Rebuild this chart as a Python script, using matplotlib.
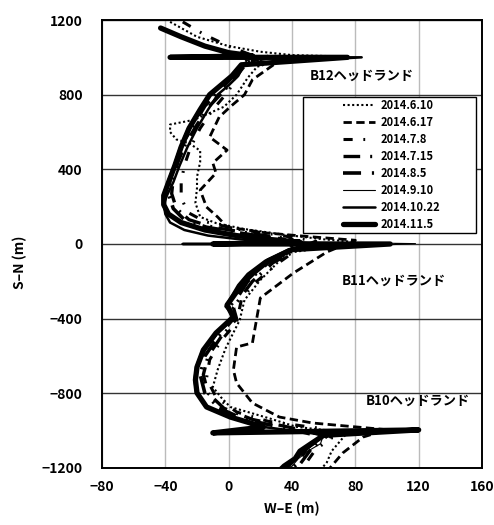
import matplotlib
matplotlib.use("Agg")
import matplotlib.pyplot as plt
from matplotlib.patches import Rectangle

plt.rcParams['font.family'] = ['Noto Sans CJK JP', 'DejaVu Sans']
plt.rcParams['font.weight'] = 'bold'

# shoreline traces (W-E m, S-N m)
x_0610 = [-37, -20, 0, 20, 40, 70, 40, 18, 12, 5, -3, -22, -37, -37, -33, -25, -18, -18, -20, -20, -21, -18, -8, 10, 35, 60, 80,
          60, 37, 20, 10, 7, -2, -7, -10, -5, 1, 12, 26, 43, 75, 70, 65, 62, 58]
y_0610 = [1190, 1110, 1060, 1030, 1012, 1005, 1000, 950, 890, 800, 735, 665, 640, 600, 560, 540, 500, 440, 360, 300, 220, 145, 112, 80, 50, 25, 10,
          -20, -48, -193, -300, -407, -560, -675, -766, -820, -873, -900, -935, -980, -1010, -1060, -1110, -1170, -1210]

x_0617 = [60, 30, 25, 15, 10, 1, -6, -12, -1, -10, -8, -18, -14, -7, -1, 24, 53, 80,
          62, 41, 20, 15, 5, 3, 5, 15, 32, 53, 100, 85, 72, 66, 63]
y_0617 = [1005, 970, 940, 880, 800, 735, 680, 573, 503, 434, 380, 289, 198, 145, 91, 59, 38, 20,
          -43, -155, -289, -530, -552, -675, -745, -852, -927, -959, -995, -1034, -1120, -1180, -1210]

x_0708 = [-29, -15, 0, 15, 10, 5, 0, -10, -18, -24, -28, -30, -30, -26, -15, 5, 30, 55,
          45, 30, 15, 8, 5, -5, -12, -14, -8, 5, 25, 60, 65, 55, 50, 47]
y_0708 = [1190, 1120, 1060, 1010, 980, 900, 820, 720, 620, 520, 420, 330, 250, 170, 120, 80, 50, 15,
          -20, -110, -220, -300, -420, -520, -620, -720, -820, -900, -950, -990, -1040, -1100, -1160, -1210]

x_0715 = [30, 12, 5, -3, -12, -20, -27, -32, -35, -36, -33, -25, -10, 15, 40,
          45, 28, 15, 8, 3, 5, -5, -13, -16, -13, -3, 15, 40, 62, 52, 45, 42]
y_0715 = [1005, 975, 900, 820, 740, 640, 540, 440, 350, 270, 190, 130, 90, 55, 25,
          -25, -100, -200, -280, -340, -400, -500, -600, -700, -800, -880, -940, -985, -1030, -1100, -1180, -1210]

x_0805 = [25, 10, 3, -6, -15, -22, -29, -33, -37, -38, -35, -28, -14, 10, 35,
          42, 25, 12, 6, 0, 3, -7, -15, -18, -15, -6, 10, 35, 58, 49, 43, 39]
y_0805 = [1005, 970, 900, 820, 740, 640, 540, 440, 350, 270, 190, 130, 90, 55, 25,
          -25, -100, -200, -280, -340, -400, -500, -600, -700, -800, -880, -940, -985, -1030, -1100, -1180, -1210]

x_0910 = [84, 15, 8, 2, -5, -12, -19, -26, -31, -35, -39, -42, -42, -39, -31, -17, 3, 25, 50, 118,
          42, 24, 12, 6, -1, 3, -8, -17, -21, -22, -21, -15, 0, 20, 60, 58, 50, 44, 40, 33]
y_0910 = [1000, 1000, 960, 900, 850, 800, 720, 620, 520, 420, 330, 260, 210, 160, 115, 75, 45, 25, 10, 2,
          -25, -90, -160, -230, -330, -390, -477, -568, -659, -728, -798, -873, -927, -980, -1020, -1070, -1110, -1150, -1190, -1215]

x_1022 = [-20, 84, 10, 6, 0, -7, -13, -20, -26, -31, -35, -39, -41, -40, -37, -28, -13, 7, 27, 45, -29, 90,
          38, 23, 12, 6, -2, 4, -7, -15, -20, -21, -20, -14, 1, 22, 60, 54, 47, 43, 38, 34]
y_1022 = [1000, 1000, 965, 900, 850, 800, 720, 620, 520, 420, 330, 260, 210, 160, 115, 75, 45, 25, 10, 0, 0, 0,
          -28, -90, -160, -220, -335, -390, -477, -568, -659, -728, -798, -873, -927, -980, -1022, -1070, -1110, -1150, -1190, -1215]

x_1105 = [-43, -30, -15, 0, 15, -37, 75, 8, 2, -5, -12, -18, -25, -30, -34, -38, -41, -41, -38, -30, -15, 5, 25, 45, -10, 102,
          40, 25, 15, 9, -1, 3, -8, -16, -20, -21, -20, -14, 1, 22, -10, 120, 60, 52, 45, 42, 35, 32]
y_1105 = [1157, 1110, 1060, 1025, 1008, 1000, 1000, 960, 900, 850, 800, 720, 620, 520, 420, 330, 260, 210, 160, 115, 75, 45, 25, 10, 0, 0,
          -30, -90, -160, -209, -327, -391, -477, -568, -659, -728, -798, -873, -927, -980, -1012, -996, -1025, -1070, -1110, -1150, -1190, -1215]

labels = ['2014.6.10', '2014.6.17', '2014.7.8', '2014.7.15', '2014.8.5', '2014.9.10', '2014.10.22', '2014.11.5']
xs = [x_0610, x_0617, x_0708, x_0715, x_0805, x_0910, x_1022, x_1105]
ys = [y_0610, y_0617, y_0708, y_0715, y_0805, y_0910, y_1022, y_1105]
styles = [(0, (1, 1.2)), (0, (3, 1.6)), (0, (3, 3.5, 0.6, 3.5)), (0, (5, 3, 0.6, 2)),
          (0, (5, 3, 0.6, 2)), '-', '-', '-']
widths = [1.5, 2.0, 2.2, 2.4, 2.6, 0.8, 1.8, 3.8]

fig = plt.figure(figsize=(4.94, 5.25), dpi=100)
ax = fig.add_axes([0.2065, 0.1086, 0.7692, 0.8533])

for x, y, ls, lw, lab in zip(xs, ys, styles, widths, labels):
    ax.plot(x, y, color='black', linestyle=ls, linewidth=lw, label=lab,
            solid_capstyle='round', dash_capstyle='butt')

ax.set_xlim(-80, 160)
ax.set_ylim(-1200, 1200)
ax.set_xticks(range(-80, 161, 40))
ax.set_yticks(range(-1200, 1201, 400))
ax.xaxis.grid(True, color='#bbbbbb', linewidth=1.0)
ax.yaxis.grid(True, color='#333333', linewidth=1.0)
ax.set_axisbelow(True)
ax.tick_params(length=0, labelsize=10)
ax.tick_params(axis='y', pad=14)
ax.tick_params(axis='x', pad=9)
for lab in ax.get_xticklabels() + ax.get_yticklabels():
    lab.set_fontweight('bold')
for s in ax.spines.values():
    s.set_linewidth(1.4)

ax.set_xlabel('W\u2013E (m)', fontsize=10, fontweight='bold')
ax.set_ylabel('S\u2013N (m)', fontsize=10, fontweight='bold')
ax.xaxis.set_label_coords(0.5, -0.076)
ax.yaxis.set_label_coords(-0.197, 0.458)

ax.text(0.684, 0.875, 'B12ヘッドランド', transform=ax.transAxes, ha='center', va='center', fontsize=9.5, fontweight='bold')
ax.text(0.768, 0.417, 'B11ヘッドランド', transform=ax.transAxes, ha='center', va='center', fontsize=9.5, fontweight='bold')
ax.text(0.83, 0.15, 'B10ヘッドランド', transform=ax.transAxes, ha='center', va='center', fontsize=9.5, fontweight='bold')

# legend frame (wide box as in the original) and legend content
ax.add_patch(Rectangle((0.529, 0.525), 0.455, 0.303, transform=ax.transAxes, facecolor='white',
                       edgecolor='black', linewidth=1.0, zorder=4))
leg = ax.legend(loc='upper left', bbox_to_anchor=(0.634, 0.824), fontsize=8, frameon=False,
                handlelength=2.9, labelspacing=0.36, borderpad=0, handletextpad=0.45, borderaxespad=0)
leg.set_zorder(5)
for t in leg.get_texts():
    t.set_fontweight('bold')

fig.savefig('out.png', dpi=100)
